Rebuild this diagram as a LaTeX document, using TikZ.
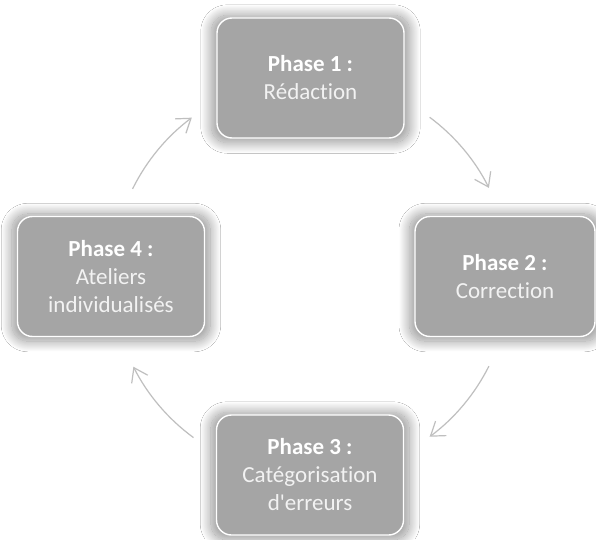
\documentclass[tikz,border=0pt]{standalone}
\usepackage{fontspec}
\setmainfont[RawFeature={-liga;-clig}]{Carlito}
\usetikzlibrary{arrows.meta,shadows.blur,calc}
\definecolor{boxfill}{HTML}{A5A5A5}
\definecolor{arrowgray}{HTML}{BFBFBF}
\definecolor{lighttext}{HTML}{F2F2F2}
\tikzset{
  phasebox/.style={rectangle, rounded corners=15pt, fill=boxfill, draw=white,
    line width=1.4pt, minimum width=187pt, minimum height=120pt,
    align=center, text=lighttext, font=\fontsize{23}{28}\selectfont,
    blur shadow={shadow xshift=0pt, shadow yshift=-1pt, shadow scale=1.06,
      shadow blur radius=10pt, shadow blur steps=30, shadow opacity=42}},
  cyclearrow/.style={draw=arrowgray, line width=1.2pt,
    -{Straight Barb[length=13pt,width=18pt,line width=1.2pt]}}
}
\newcommand{\phasetitle}[1]{{\bfseries\color{white}#1}}
\begin{document}
\begin{tikzpicture}[x=1pt,y=1pt]
\useasboundingbox (0,0) rectangle (596,539);
\fill[white] (0,0) rectangle (596,539);
\node[phasebox] (p1) at (310.5,461) {\phasetitle{Phase 1 :}\\Rédaction};
\node[phasebox, minimum width=180pt] (p2) at (505,262.5) {\phasetitle{Phase 2 :}\\Correction};
\node[phasebox] (p3) at (310,64) {\phasetitle{Phase 3 :}\\Catégorisation\\d\textquotesingle erreurs};
\node[phasebox] (p4) at (111,262.5) {\phasetitle{Phase 4 :}\\Ateliers\\individualisés};
\coordinate (c) at (311,262);
\coordinate (a1s) at ($(c)+(153.7:199pt)$);
\coordinate (a2s) at ($(c)+(53.4:199pt)$);
\coordinate (a3s) at ($(c)+(-26.6:199pt)$);
\coordinate (a4s) at ($(c)+(233.8:199pt)$);
\draw[cyclearrow] (a1s) arc[start angle=153.7, end angle=126.8, radius=199pt];
\draw[cyclearrow] (a2s) arc[start angle=53.4, end angle=26.6, radius=199pt];
\draw[cyclearrow] (a3s) arc[start angle=-26.6, end angle=-53.4, radius=199pt];
\draw[cyclearrow] (a4s) arc[start angle=233.8, end angle=206.8, radius=199pt];
\end{tikzpicture}
\end{document}
